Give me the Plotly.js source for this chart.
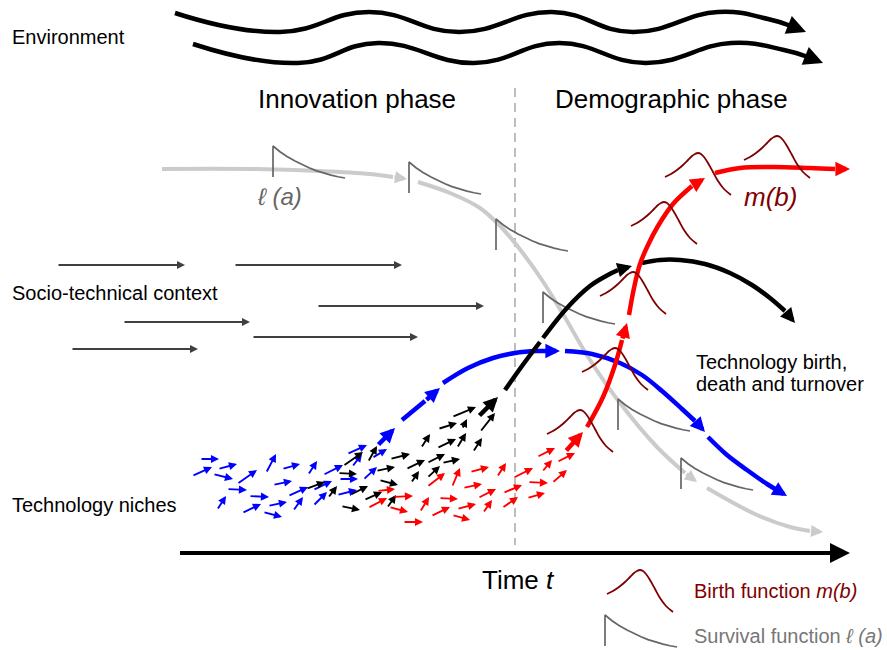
<!DOCTYPE html>
<html><head><meta charset="utf-8">
<script src="https://cdn.plot.ly/plotly-3.0.1.min.js"></script>
<style>html,body{margin:0;padding:0;background:#fff}</style>
</head><body><div id="chart" style="width:887px;height:650px"></div>
<script>
// ================= DATA (diagram coordinates) =================
// Environment waves (peaks / troughs), last point = arrow tip
const envWave1X = [175,280,369,459,552,633,718,768,791,806];
const envWave1Y = [13,32,12,32,12,32,12,19,26,32];
const envWave2X = [193,298,378,474,559,646,731,784,808,823];
const envWave2Y = [44,63,43,63,43,63,43,50,57,63];

// Socio-technical context arrows [x0,y0,x1,y1]
const socioArrows = [[57,265,185,265],[234,265,402,265],[317,306,484,306],
                     [123,322,250,322],[252,337,418,337],[71,349,198,349]];

// Survival curve l(a) segments (light grey), last point = arrow tip
const survivalCurve = [
  [[162,169],[250,169],[320,171],[370,174],[393,177],[407,179]],
  [[418,182],[450,193],[480,208],[502,228],[522,252],[542,280],[563,314],[590,360],[620,403],[657,447],[685,473],[697,482]],
  [[707,488],[757,515],[790,527],[810,531],[823,532]]
];

// Technology curves (segments), last point = arrow tip
const blueCurve = [
  [[377,446],[395,428]],
  [[402,420],[425,401],[440,388]],
  [[443,383],[468,368],[493,358],[515,353],[537,351],[547,351],[560,351]],
  [[565,351],[592,354],[620,363],[642,375],[662,391],[682,409],[695,421],[705,432]],
  [[708,437],[727,455],[747,470],[767,484],[777,490],[787,496]]
];
const blackCurve = [
  [[478,417],[498,397]],
  [[505,390],[522,366],[540,342]],            // no head (break)
  [[543,338],[567,308],[590,286],[606,276],[618,270],[632,266]],
  [[642,263],[660,260],[680,260],[705,264],[730,273],[752,285],[770,298],[785,311],[795,323]]
];
const redCurve = [
  [[565,452],[583,432]],
  [[587,427],[603,397],[615,365],[622,340],[627,323]],
  [[629,315],[634,288],[640,264],[648,245],[658,226],[673,204],[692,186],[705,178]],
  [[715,173],[740,168],[773,167],[810,168],[835,169],[850,169]]
];

// Technology niche arrows [x0,y0,x1,y1]
const nicheBlue = [
  [200,459,219,459],[192,476,212,467],[218,469,237,464],[213,474,233,479],[237,484,257,470],
  [266,473,276,454],[282,469,300,464],[308,475,317,461],[323,475,343,465],[347,454,367,445],
  [227,489,247,490],[217,510,226,496],[249,496,269,497],[273,485,292,481],[242,513,261,504],
  [268,506,287,502],[263,512,282,517],[288,496,308,487],[293,511,303,497],[313,506,327,492],
  [313,490,332,481],[339,479,358,479],[337,495,357,490],[352,467,362,454],[363,480,377,467],
  [372,458,387,449]
];
const nicheBlack = [
  [306,489,325,482],[328,498,337,486],[338,473,357,474],[341,506,360,510],[343,466,363,452],
  [350,495,368,486],[368,462,377,446],[364,500,382,492],[379,480,398,485],[376,471,395,467],
  [387,508,396,495],[390,459,410,454],[406,469,425,460],[411,483,419,471],[421,448,430,434],
  [427,478,440,466],[427,463,445,454],[437,448,456,439],[438,429,457,423],[442,463,460,459],
  [457,448,466,433],[462,429,467,419],[452,417,476,407],[473,452,482,438],[480,432,495,413]
];
const nicheRed = [
  [377,491,395,489],[368,508,387,498],[393,497,413,496],[389,507,408,512],[403,522,423,522],
  [420,512,429,497],[427,487,445,473],[431,516,450,507],[439,498,458,499],[452,487,460,468],
  [452,515,470,520],[457,509,476,504],[463,488,482,484],[470,472,489,467],[478,498,496,489],
  [483,513,492,500],[497,477,506,463],[503,493,522,485],[502,508,518,497],[513,478,533,468],
  [528,482,548,483],[527,498,545,493],[542,472,552,460],[537,457,555,448],[552,483,567,470],
  [557,462,575,453]
];

// Survival-function glyphs: vertical at x, top y ; template shape
const survGlyphX   = [273,409,496,543,618,681,605];
const survGlyphTop = [146,162,219,292,399,458,615];
const survShapeDX  = [0,7,14,22,29,36,43,50,58,65,72];
const survShapeFr  = [0,0.18,0.33,0.47,0.58,0.68,0.77,0.84,0.91,0.96,1];
const survGlyphH   = 31;

// Birth-function glyphs: peak positions ; template shape relative to peak
const birthPeakX  = [698,777,664,633,615,580,640];
const birthPeakY  = [153,136,202,272,348,410,570];
const birthShapeDX = [-33,-27,-21,-15,-10,-6,-3,0,3,6,10,15,20,26,33];
const birthShapeDY = [24,21,17,12,7,3,1,0,1,4,10,19,28,36,42];

// Phase divider and time axis
const dividerX = [515,515], dividerY = [88,545];
const timeAxisX = [180,832,850], timeAxisY = [553,553,553];

// ================= BUILD =================
const FONT = 'Liberation Sans, Arial, sans-serif';
const traces = [], anns = [];
function line(xs, ys, color, width, extra) {
  traces.push(Object.assign({type:'scatter', mode:'lines', x:xs, y:ys, hoverinfo:'skip', cliponaxis:false,
    line:{color:color, width:width, shape:'spline', smoothing:1}}, extra||{}));
}
function head(x0,y0,x1,y1,color,width,size){
  anns.push({x:x1,y:y1,ax:x0,ay:y0,xref:'x',yref:'y',axref:'x',ayref:'y',text:'',
    showarrow:true,arrowhead:2,arrowsize:size,arrowwidth:width,arrowcolor:color,standoff:0,startstandoff:0});
}
function curveArrow(pts,color,width,size,withHead,smooth){
  const xs=pts.map(p=>p[0]), ys=pts.map(p=>p[1]), n=xs.length;
  const ex = smooth ? {line:{color:color,width:width,shape:'spline',smoothing:smooth}} : undefined;
  if(withHead){
    if(n>2) line(xs.slice(0,n-1), ys.slice(0,n-1), color, width, ex);
    head(xs[n-2],ys[n-2],xs[n-1],ys[n-1],color,width,size);
  } else line(xs,ys,color,width,ex);
}
function label(x,y,text,size,color,xanchor,extra){
  anns.push(Object.assign({x:x,y:y,xref:'x',yref:'y',text:text,showarrow:false,xanchor:xanchor||'left',yanchor:'middle',
    font:{family:FONT,size:size,color:color||'#000'}}, extra||{}));
}

// divider
line(dividerX, dividerY, '#bdbdbd', 2, {line:{color:'#bdbdbd',width:2,dash:'9px,6px'}});

// environment
curveArrow(envWave1X.map((x,i)=>[x,envWave1Y[i]]), '#000', 4.5, 0.85, true, 1.3);
curveArrow(envWave2X.map((x,i)=>[x,envWave2Y[i]]), '#000', 4.5, 0.85, true, 1.3);

// socio-technical
socioArrows.forEach(a=>head(a[0],a[1],a[2],a[3],'#404040',2,0.8));

// survival curve
survivalCurve.forEach(seg=>curveArrow(seg,'#cbcbcb',4,0.6,true));

// niches
nicheBlue.forEach(a=>head(a[0],a[1],a[2],a[3],'#0000ff',1.9,0.85));
nicheBlack.forEach(a=>head(a[0],a[1],a[2],a[3],'#000000',1.9,0.85));
nicheRed.forEach(a=>head(a[0],a[1],a[2],a[3],'#ff0000',1.9,0.85));

// survival glyphs
survGlyphX.forEach((x,i)=>{
  const t=survGlyphTop[i];
  const xs=[x,x].concat(survShapeDX.map(d=>x+d));
  const ys=[t+survGlyphH,t].concat(survShapeFr.map(f=>t+f*(survGlyphH+1)));
  line(xs,ys,'#666666',1.7,{line:{color:'#666666',width:1.7,shape:'linear'}});
});

// technology curves
blueCurve.forEach(seg=>curveArrow(seg,'#0000ff',4.5,0.65,true));
blackCurve.forEach((seg,i)=>curveArrow(seg,'#000000',4.5,0.65,i!==1));
redCurve.forEach(seg=>curveArrow(seg,'#ff0000',4.5,0.65,true));

// birth glyphs
birthPeakX.forEach((x,i)=>{
  line(birthShapeDX.map(d=>x+d), birthShapeDY.map(d=>birthPeakY[i]+d), '#7f0000', 1.8);
});

// time axis
line(timeAxisX.slice(0,2), timeAxisY.slice(0,2), '#000', 4);
head(timeAxisX[1],timeAxisY[1],timeAxisX[2],timeAxisY[2],'#000',4,1.0);

// texts
label(10,37,'Environment',20);
label(357,99,'Innovation phase',26,'#000','center');
label(671,99,'Demographic phase',26,'#000','center');
label(10,293,'Socio-technical context',20);
label(10,505,'Technology niches',20);
label(694,362,'Technology birth,',20);
label(694,384,'death and turnover',20);
label(518,580,'Time <i>t</i>',26,'#000','center');
label(279,196,'<i>ℓ (a)</i>',24,'#666666','center');
label(770,197,'<i>m(b)</i>',26,'#7f0000','center');
label(692,591,'Birth function <i>m(b)</i>',20,'#800000');
label(692,636,'Survival function <i>ℓ (a)</i>',20,'#777777');

const layout = {
  width:887, height:650, margin:{l:0,r:0,t:0,b:0},
  paper_bgcolor:'#ffffff', plot_bgcolor:'#ffffff',
  xaxis:{range:[0,887], visible:false, fixedrange:true},
  yaxis:{range:[650,0], visible:false, fixedrange:true},
  showlegend:false, annotations:anns, font:{family:FONT}
};
Plotly.newPlot('chart', traces, layout, {staticPlot:true, displayModeBar:false});
</script></body></html>
